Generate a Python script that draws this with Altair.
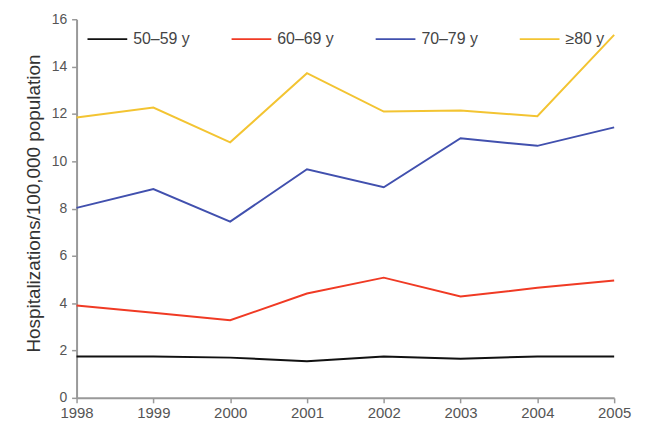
import altair as alt
import pandas as pd

years = [1998, 1999, 2000, 2001, 2002, 2003, 2004, 2005]
series_names = ["50–59 y", "60–69 y", "70–79 y", "≥80 y"]
v_50_59 = [1.75, 1.75, 1.70, 1.55, 1.75, 1.65, 1.75, 1.75]
v_60_69 = [3.90, 3.60, 3.28, 4.41, 5.08, 4.28, 4.65, 4.96]
v_70_79 = [8.03, 8.82, 7.45, 9.66, 8.90, 10.97, 10.65, 11.43]
v_80 = [11.85, 12.27, 10.80, 13.72, 12.10, 12.14, 11.90, 15.34]
colors = ["#111111", "#f03a24", "#4150ae", "#f3c432"]

rows = []
for name, vals in zip(series_names, [v_50_59, v_60_69, v_70_79, v_80]):
    for y, v in zip(years, vals):
        rows.append({"year": y, "value": v, "group": name})
df = pd.DataFrame(rows)

chart = alt.Chart(df).mark_line(strokeWidth=2).encode(
    x=alt.X("year:Q", scale=alt.Scale(domain=[1998, 2005], nice=False, zero=False),
            axis=alt.Axis(title=None, format="d", values=years, grid=False, labelFlush=False,
                          labelFont="Liberation Sans", labelFontSize=15, labelColor="#555555",
                          domainColor="#999999", domainWidth=2, tickColor="#999999",
                          tickWidth=1.5, tickSize=5, labelPadding=3)),
    y=alt.Y("value:Q", scale=alt.Scale(domain=[0, 16], nice=False),
            axis=alt.Axis(title="Hospitalizations/100,000 population", values=list(range(0, 17, 2)),
                          grid=False, labelFont="Liberation Sans", labelFontSize=14,
                          labelColor="#555555", titleFont="Liberation Sans", titleFontSize=19,
                          titleFontWeight="normal", titleColor="#333333", titlePadding=8,
                          titleY=185,
                          domainColor="#999999", domainWidth=2, tickColor="#999999",
                          tickWidth=1.5, tickSize=5, labelPadding=5)),
    color=alt.Color("group:N", scale=alt.Scale(domain=series_names, range=colors),
                    legend=alt.Legend(title=None, orient="none", direction="horizontal",
                                      legendX=10, legendY=-1, symbolType="stroke",
                                      symbolSize=1600, symbolStrokeWidth=2,
                                      labelFont="Liberation Sans", labelFontSize=16,
                                      labelColor="#444444", columnPadding=38, labelOffset=5)),
).properties(
    width=541, height=381,
    autosize=alt.AutoSizeParams(type="none"),
    padding={"left": 69, "top": 10, "right": 25, "bottom": 26},
).configure_view(stroke=None)

chart.save("out.html", embed_options={"renderer": "svg", "actions": False})
